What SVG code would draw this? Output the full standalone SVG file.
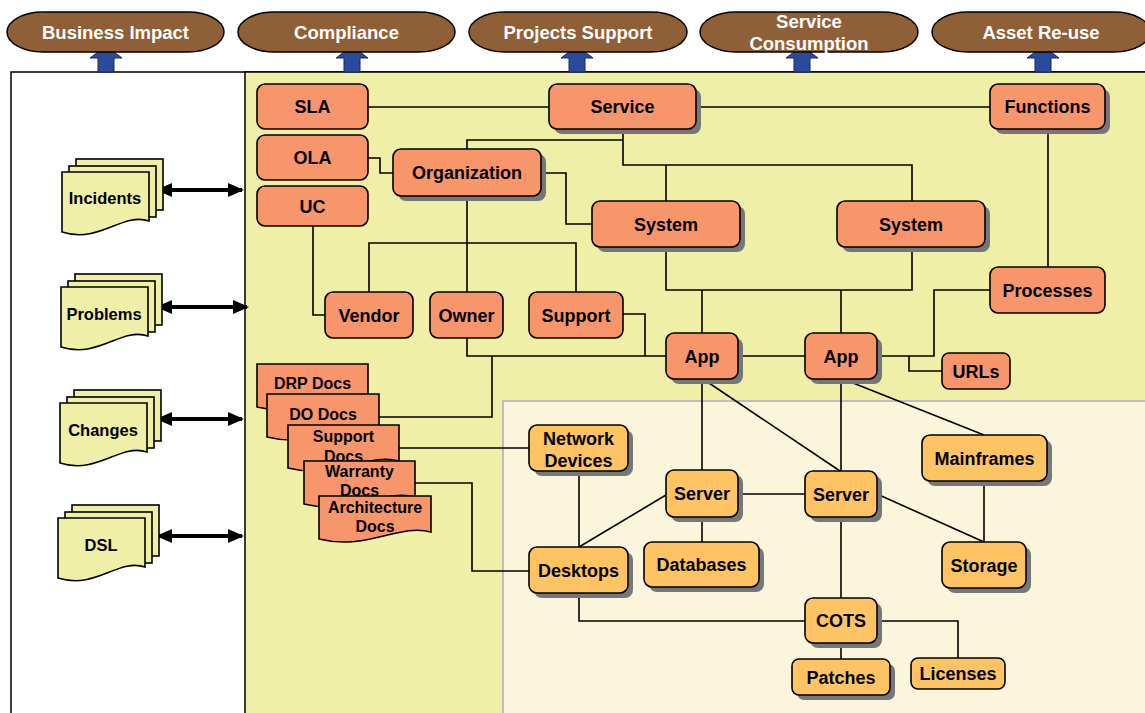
<svg xmlns="http://www.w3.org/2000/svg" width="1145" height="713" viewBox="0 0 1145 713">
<defs>
<style>
.t{font-family:"Liberation Sans",Arial,sans-serif;font-weight:bold;font-size:18px;fill:#000;text-anchor:middle}
.ts{font-size:16px}
.tp{fill:#fff;font-size:18.5px}
.pill{fill:#8F5F37;stroke:#000;stroke-width:1.5}
.ba{fill:#2B4A9E;stroke:#1A2A5A;stroke-width:1}
.sa{fill:#F7966B;stroke:#000;stroke-width:1.6}
.or{fill:#FEC464;stroke:#000;stroke-width:1.6}
.sh{fill:#767779}
.yd{fill:#EFEFA8;stroke:#000;stroke-width:1.6}
.sd{fill:#F7966B;stroke:#000;stroke-width:1.6}
.ln{fill:none;stroke:#000;stroke-width:1.6}
.da{fill:none;stroke:#000;stroke-width:4}
</style>
<marker id="ah" markerUnits="userSpaceOnUse" markerWidth="16" markerHeight="14" refX="14" refY="7" orient="auto-start-reverse">
<path d="M0,0 L16,7 L0,14 Z" fill="#000"/>
</marker>
</defs>

<!-- backgrounds -->
<rect x="11" y="72" width="1140" height="650" fill="#FFFFFF" stroke="#000" stroke-width="1.5"/>
<rect x="245" y="72" width="906" height="650" fill="#EFEFA8" stroke="#000" stroke-width="1.5"/>
<rect x="503" y="401" width="650" height="320" fill="#FBF5DC" stroke="#BEBEBE" stroke-width="2"/>

<!-- blue arrows -->
<g id="uparrows">
<polygon class="ba" points="98,72 98,58 90,58 106,46 122,58 114,58 114,72"/>
<polygon class="ba" points="344,72 344,58 336,58 352,46 368,58 360,58 360,72"/>
<polygon class="ba" points="569,72 569,58 561,58 577,46 593,58 585,58 585,72"/>
<polygon class="ba" points="794,72 794,58 786,58 802,46 818,58 810,58 810,72"/>
<polygon class="ba" points="1035,72 1035,58 1027,58 1043,46 1059,58 1051,58 1051,72"/>
</g>

<!-- top pills -->
<g id="p-business"><rect class="pill" x="7" y="12" width="217" height="40" rx="36" ry="20"/><text class="t tp" x="115.5" y="39">Business Impact</text></g>
<g id="p-compliance"><rect class="pill" x="238" y="12" width="217" height="40" rx="36" ry="20"/><text class="t tp" x="346.5" y="39">Compliance</text></g>
<g id="p-projects"><rect class="pill" x="469" y="12" width="218" height="40" rx="36" ry="20"/><text class="t tp" x="578" y="39">Projects Support</text></g>
<g id="p-consumption"><rect class="pill" x="700" y="12" width="218" height="40" rx="36" ry="20"/><text class="t tp" x="809" y="28">Service</text><text class="t tp" x="809" y="50">Consumption</text></g>
<g id="p-asset"><rect class="pill" x="932" y="12" width="218" height="40" rx="36" ry="20"/><text class="t tp" x="1041" y="39">Asset Re-use</text></g>

<!-- connectors -->
<g id="connectors">
<path class="da" d="M158,190 H242" marker-start="url(#ah)" marker-end="url(#ah)"/>
<path class="da" d="M158,307 H247" marker-start="url(#ah)" marker-end="url(#ah)"/>
<path class="da" d="M158,419 H242" marker-start="url(#ah)" marker-end="url(#ah)"/>
<path class="da" d="M158,536 H242" marker-start="url(#ah)" marker-end="url(#ah)"/>
<path class="ln" d="M368,107 H549"/>
<path class="ln" d="M696,107 H990"/>
<path class="ln" d="M368,158 H380 V173 H393"/>
<path class="ln" d="M467,149 V140 H623"/>
<path class="ln" d="M623,129 V165 H912 V201"/>
<path class="ln" d="M666,165 V201"/>
<path class="ln" d="M541,173 H566 V224 H592"/>
<path class="ln" d="M467,196 V292"/>
<path class="ln" d="M369,292 V243 H576 V292"/>
<path class="ln" d="M313,226 V315 H325"/>
<path class="ln" d="M1048,129 V267"/>
<path class="ln" d="M666,247 V290 H912 V247"/>
<path class="ln" d="M702,290 V333"/>
<path class="ln" d="M841,290 V333"/>
<path class="ln" d="M738,356 H805"/>
<path class="ln" d="M877,356 H934 V290 H990"/>
<path class="ln" d="M909,356 V371 H942"/>
<path class="ln" d="M467,338 V356 H666"/>
<path class="ln" d="M623,314 H645 V356"/>
<path class="ln" d="M379,417 H492 V356"/>
<path class="ln" d="M399,448 H529"/>
<path class="ln" d="M415,483 H472 V571 H529"/>
<path class="ln" d="M579,471 V547"/>
<path class="ln" d="M666,495 L579,547"/>
<path class="ln" d="M702,379 V470"/>
<path class="ln" d="M703,379 L840,471"/>
<path class="ln" d="M841,379 V471"/>
<path class="ln" d="M843,379 L984,435"/>
<path class="ln" d="M738,494 H805"/>
<path class="ln" d="M702,517 V542"/>
<path class="ln" d="M877,494 L984,542"/>
<path class="ln" d="M984,481 V542"/>
<path class="ln" d="M841,517 V598"/>
<path class="ln" d="M579,593 V621 H805"/>
<path class="ln" d="M841,643 V659"/>
<path class="ln" d="M877,621 H958 V658"/>
</g>

<!-- left document stacks -->
<g id="incidents" transform="translate(62,172)">
<rect class="yd" x="14" y="-13" width="87" height="51"/>
<rect class="yd" x="7" y="-6" width="87" height="51"/>
<path class="yd" d="M0,0 H87 V49 C60,40 38,72 0,60 Z"/>
<text class="t" style="font-size:16.5px" x="43" y="32">Incidents</text>
</g>
<g id="problems" transform="translate(61,287)">
<rect class="yd" x="14" y="-13" width="87" height="51"/>
<rect class="yd" x="7" y="-6" width="87" height="51"/>
<path class="yd" d="M0,0 H87 V49 C60,40 38,72 0,60 Z"/>
<text class="t" style="font-size:16.5px" x="43" y="33">Problems</text>
</g>
<g id="changes" transform="translate(60,403)">
<rect class="yd" x="14" y="-13" width="87" height="51"/>
<rect class="yd" x="7" y="-6" width="87" height="51"/>
<path class="yd" d="M0,0 H87 V49 C60,40 38,72 0,60 Z"/>
<text class="t" style="font-size:16.5px" x="43" y="33">Changes</text>
</g>
<g id="dsl" transform="translate(58,518)">
<rect class="yd" x="14" y="-13" width="87" height="51"/>
<rect class="yd" x="7" y="-6" width="87" height="51"/>
<path class="yd" d="M0,0 H87 V49 C60,40 38,72 0,60 Z"/>
<text class="t" style="font-size:16.5px" x="43" y="33">DSL</text>
</g>

<!-- salmon documents -->
<g id="drp-docs" transform="translate(257,364)"><path class="sd" d="M0,0 H111 V36 C80,27 48,55 0,43 Z"/><text class="t ts" x="55.5" y="25">DRP Docs</text></g>
<g id="do-docs" transform="translate(267,394)"><path class="sd" d="M0,0 H112 V36 C80,27 48,55 0,43 Z"/><text class="t ts" x="56" y="26">DO Docs</text></g>
<g id="support-docs" transform="translate(288,425)"><path class="sd" d="M0,0 H111 V36 C80,27 48,55 0,43 Z"/><text class="t ts" x="55.5" y="17">Support</text><text class="t ts" x="55.5" y="37">Docs</text></g>
<g id="warranty-docs" transform="translate(304,461)"><path class="sd" d="M0,0 H111 V36 C80,27 48,55 0,43 Z"/><text class="t ts" x="55.5" y="16">Warranty</text><text class="t ts" x="55.5" y="35">Docs</text></g>
<g id="architecture-docs" transform="translate(319,496)"><path class="sd" d="M0,0 H112 V36 C80,27 48,55 0,43 Z"/><text class="t ts" x="56" y="17">Architecture</text><text class="t ts" x="56" y="36">Docs</text></g>

<!-- salmon nodes -->
<g id="sla"><rect class="sa" x="257" y="84" width="111" height="45" rx="8"/><text class="t" x="312.5" y="113">SLA</text></g>
<g id="ola"><rect class="sa" x="257" y="135" width="111" height="45" rx="8"/><text class="t" x="312.5" y="164">OLA</text></g>
<g id="uc"><rect class="sa" x="257" y="186" width="111" height="40" rx="8"/><text class="t" x="312.5" y="212.5">UC</text></g>
<g id="service"><rect class="sh" x="554" y="89" width="147" height="45" rx="8"/><rect class="sa" x="549" y="84" width="147" height="45" rx="8"/><text class="t" x="622.5" y="113">Service</text></g>
<g id="functions"><rect class="sh" x="995" y="89" width="115" height="45" rx="8"/><rect class="sa" x="990" y="84" width="115" height="45" rx="8"/><text class="t" x="1047.5" y="113">Functions</text></g>
<g id="organization"><rect class="sh" x="398" y="154" width="148" height="47" rx="8"/><rect class="sa" x="393" y="149" width="148" height="47" rx="8"/><text class="t" x="467" y="179">Organization</text></g>
<g id="system1"><rect class="sh" x="597" y="206" width="148" height="46" rx="8"/><rect class="sa" x="592" y="201" width="148" height="46" rx="8"/><text class="t" x="666" y="230.5">System</text></g>
<g id="system2"><rect class="sh" x="842" y="206" width="148" height="46" rx="8"/><rect class="sa" x="837" y="201" width="148" height="46" rx="8"/><text class="t" x="911" y="230.5">System</text></g>
<g id="vendor"><rect class="sa" x="325" y="292" width="88" height="46" rx="8"/><text class="t" x="369" y="321.5">Vendor</text></g>
<g id="owner"><rect class="sa" x="430" y="292" width="73" height="46" rx="8"/><text class="t" x="466.5" y="321.5">Owner</text></g>
<g id="support"><rect class="sa" x="529" y="292" width="94" height="46" rx="8"/><text class="t" x="576" y="321.5">Support</text></g>
<g id="processes"><rect class="sa" x="990" y="267" width="115" height="46" rx="8"/><text class="t" x="1047.5" y="296.5">Processes</text></g>
<g id="app1"><rect class="sh" x="671" y="338" width="72" height="46" rx="8"/><rect class="sa" x="666" y="333" width="72" height="46" rx="8"/><text class="t" x="702" y="362.5">App</text></g>
<g id="app2"><rect class="sh" x="810" y="338" width="72" height="46" rx="8"/><rect class="sa" x="805" y="333" width="72" height="46" rx="8"/><text class="t" x="841" y="362.5">App</text></g>
<g id="urls"><rect class="sa" x="942" y="353" width="68" height="36" rx="7"/><text class="t" x="976" y="377.5">URLs</text></g>

<!-- orange nodes -->
<g id="network-devices"><rect class="sh" x="534" y="430" width="99" height="46" rx="8"/><rect class="or" x="529" y="425" width="99" height="46" rx="8"/><text class="t" x="578.5" y="444.5">Network</text><text class="t" x="578.5" y="466.5">Devices</text></g>
<g id="server1"><rect class="sh" x="671" y="475" width="72" height="47" rx="8"/><rect class="or" x="666" y="470" width="72" height="47" rx="8"/><text class="t" x="702" y="500">Server</text></g>
<g id="server2"><rect class="sh" x="810" y="476" width="72" height="46" rx="8"/><rect class="or" x="805" y="471" width="72" height="46" rx="8"/><text class="t" x="841" y="500.5">Server</text></g>
<g id="mainframes"><rect class="sh" x="927" y="440" width="125" height="46" rx="8"/><rect class="or" x="922" y="435" width="125" height="46" rx="8"/><text class="t" x="984.5" y="464.5">Mainframes</text></g>
<g id="desktops"><rect class="sh" x="534" y="552" width="99" height="46" rx="8"/><rect class="or" x="529" y="547" width="99" height="46" rx="8"/><text class="t" x="578.5" y="576.5">Desktops</text></g>
<g id="databases"><rect class="sh" x="649" y="547" width="115" height="45" rx="8"/><rect class="or" x="644" y="542" width="115" height="45" rx="8"/><text class="t" x="701.5" y="571">Databases</text></g>
<g id="storage"><rect class="sh" x="947" y="547" width="84" height="46" rx="8"/><rect class="or" x="942" y="542" width="84" height="46" rx="8"/><text class="t" x="984" y="571.5">Storage</text></g>
<g id="cots"><rect class="sh" x="810" y="603" width="72" height="45" rx="8"/><rect class="or" x="805" y="598" width="72" height="45" rx="8"/><text class="t" x="841" y="627">COTS</text></g>
<g id="patches"><rect class="sh" x="797" y="664" width="98" height="36" rx="7"/><rect class="or" x="792" y="659" width="98" height="36" rx="7"/><text class="t" x="841" y="683.5">Patches</text></g>
<g id="licenses"><rect class="or" x="911" y="658" width="94" height="31" rx="7"/><text class="t" x="958" y="680">Licenses</text></g>
</svg>
